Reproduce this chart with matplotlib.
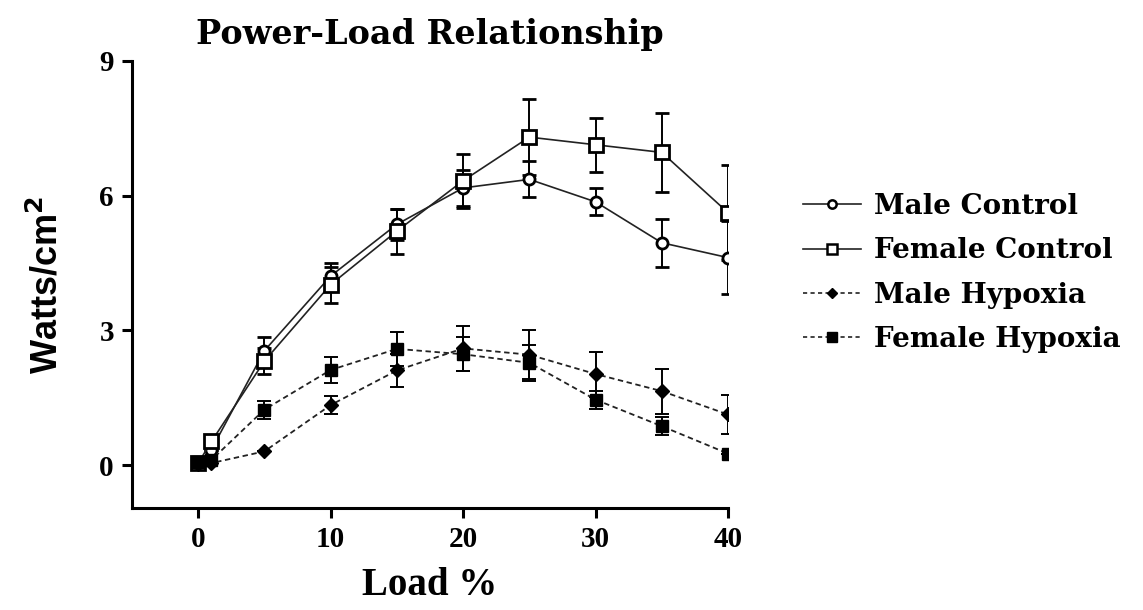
import matplotlib
matplotlib.use("Agg")
import matplotlib.pyplot as plt
from matplotlib.lines import Line2D

load = [0, 1, 5, 10, 15, 20, 25, 30, 35, 40]
male_ctrl = [0.05, 0.35, 2.55, 4.21, 5.36, 6.17, 6.36, 5.86, 4.95, 4.62]
male_ctrl_err = [0, 0, 0.3, 0.3, 0.35, 0.4, 0.4, 0.3, 0.53, 0.82]
female_ctrl = [0.05, 0.53, 2.32, 4.02, 5.21, 6.33, 7.3, 7.13, 6.96, 5.62]
female_ctrl_err = [0, 0, 0.3, 0.4, 0.5, 0.6, 0.85, 0.6, 0.87, 1.06]
male_hyp = [0.03, 0.05, 0.31, 1.34, 2.11, 2.6, 2.46, 2.03, 1.65, 1.13]
male_hyp_err = [0, 0, 0, 0.2, 0.37, 0.5, 0.55, 0.5, 0.5, 0.43]
female_hyp = [0.08, 0.12, 1.24, 2.12, 2.59, 2.47, 2.28, 1.46, 0.87, 0.26]
female_hyp_err = [0, 0, 0.2, 0.3, 0.38, 0.38, 0.4, 0.2, 0.2, 0]

labels = ["Male Control", "Female Control", "Male Hypoxia", "Female Hypoxia"]
x_ticks = [0, 10, 20, 30, 40]
y_ticks = [0, 3, 6, 9]

fig = plt.figure(figsize=(11.43, 6.10), dpi=100)
ax = fig.add_axes([132/1143, 1-508/610, (728-132)/1143, (508-60.7)/610])

dash = (0, (3, 2))
common = dict(capsize=5, capthick=1.4, elinewidth=1.4, ecolor="black")

ax.errorbar(load, male_hyp, yerr=male_hyp_err, color="#222222", lw=1.3, ls=dash,
            marker="D", ms=7, mfc="black", mec="black", **common, zorder=5)
ax.errorbar(load, female_hyp, yerr=female_hyp_err, color="#222222", lw=1.3, ls=dash,
            marker="s", ms=8.5, mfc="black", mec="black", **common, zorder=5)
ax.errorbar(load, male_ctrl, yerr=male_ctrl_err, color="#222222", lw=1.2, ls="-",
            marker="o", ms=8, mfc="white", mec="black", mew=2, **common, zorder=4)
ax.errorbar(load, female_ctrl, yerr=female_ctrl_err, color="#222222", lw=1.2, ls="-",
            marker="s", ms=9.5, mfc="white", mec="black", mew=2, **common, zorder=4)

ax.set_xlim(-5, 40)
ax.set_ylim(-0.95, 9)
ax.set_xticks(x_ticks)
ax.set_yticks(y_ticks)
for s in ["top", "right"]:
    ax.spines[s].set_visible(False)
for s in ["left", "bottom"]:
    ax.spines[s].set_linewidth(2.2)
ax.tick_params(axis="both", direction="out", length=7, width=2.2, pad=6)
for lab in ax.get_xticklabels() + ax.get_yticklabels():
    lab.set_fontfamily("Liberation Serif")
    lab.set_fontweight("bold")
    lab.set_fontsize(21)

ax.set_xlabel("Load %", fontfamily="Liberation Serif", fontweight="bold", fontsize=28, labelpad=10)
ax.set_ylabel("Watts/cm$^\\mathbf{2}$", fontfamily="Liberation Sans", fontweight="bold", fontsize=26, labelpad=24)
ax.set_title("Power-Load Relationship", fontfamily="DejaVu Serif", fontweight="bold", fontsize=24, pad=12)

handles = [
    Line2D([], [], color="#222222", lw=1.2, ls="-", marker="o", ms=6, mfc="white", mec="black", mew=1.8),
    Line2D([], [], color="#222222", lw=1.2, ls="-", marker="s", ms=7, mfc="white", mec="black", mew=1.8),
    Line2D([], [], color="#222222", lw=1.2, ls=(0, (2.5, 2)), marker="D", ms=5.5, mfc="black", mec="black"),
    Line2D([], [], color="#222222", lw=1.2, ls=(0, (2.5, 2)), marker="s", ms=6.5, mfc="black", mec="black"),
]
fig.legend(handles, labels, loc="center left",
           bbox_to_anchor=(803/1143, 1-273/610), frameon=False,
           prop=dict(family="DejaVu Serif", weight="bold", size=20),
           handlelength=2.1, handletextpad=0.45, labelspacing=0.62,
           borderpad=0, borderaxespad=0)

fig.savefig("out.png", dpi=100)
